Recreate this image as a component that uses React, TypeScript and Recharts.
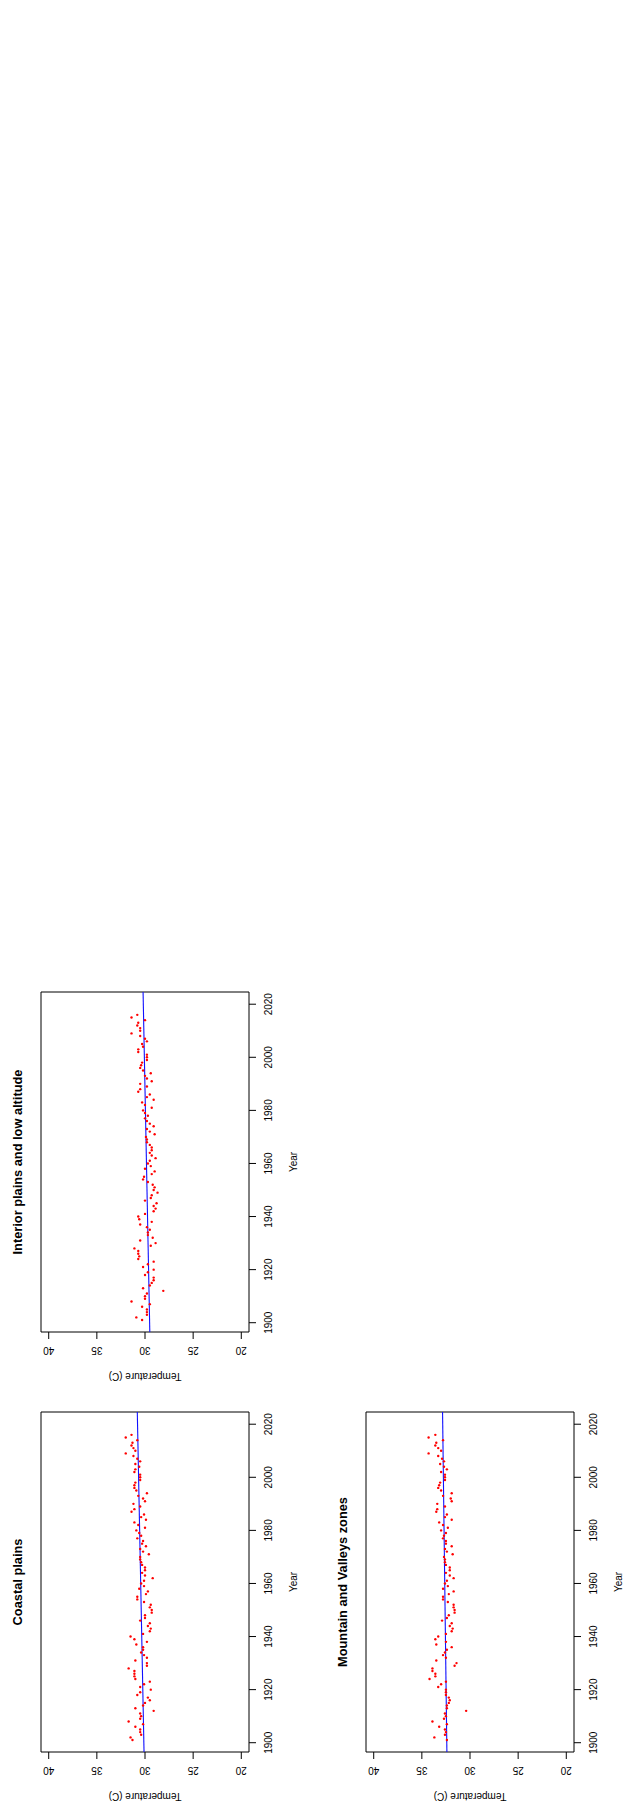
import React from 'react';
import { ScatterChart, Scatter, XAxis, YAxis, ReferenceArea, ReferenceLine } from 'recharts';

// Annual values, 1901-2016
const years = [
  1901, 1902, 1903, 1904, 1905, 1906, 1907, 1908, 1909, 1910,
  1911, 1912, 1913, 1914, 1915, 1916, 1917, 1918, 1919, 1920,
  1921, 1922, 1923, 1924, 1925, 1926, 1927, 1928, 1929, 1930,
  1931, 1932, 1933, 1934, 1935, 1936, 1937, 1938, 1939, 1940,
  1941, 1942, 1943, 1944, 1945, 1946, 1947, 1948, 1949, 1950,
  1951, 1952, 1953, 1954, 1955, 1956, 1957, 1958, 1959, 1960,
  1961, 1962, 1963, 1964, 1965, 1966, 1967, 1968, 1969, 1970,
  1971, 1972, 1973, 1974, 1975, 1976, 1977, 1978, 1979, 1980,
  1981, 1982, 1983, 1984, 1985, 1986, 1987, 1988, 1989, 1990,
  1991, 1992, 1993, 1994, 1995, 1996, 1997, 1998, 1999, 2000,
  2001, 2002, 2003, 2004, 2005, 2006, 2007, 2008, 2009, 2010,
  2011, 2012, 2013, 2014, 2015, 2016,
];

const coastalTemps = [
  31.3, 31.5, 30.4, 30.5, 30.5, 31.0, 30.2, 31.7, 30.5, 30.4,
  30.5, 29.1, 31.0, 30.2, 30.0, 29.5, 29.7, 30.8, 30.5, 29.4,
  30.5, 30.1, 29.5, 31.0, 31.1, 31.1, 31.1, 31.7, 29.8, 29.8,
  31.0, 29.8, 30.1, 30.4, 30.2, 30.2, 30.9, 29.8, 31.1, 31.5,
  30.2, 29.5, 29.4, 29.7, 29.5, 30.5, 30.0, 30.0, 29.3, 29.3,
  29.5, 29.4, 30.1, 30.8, 30.8, 29.9, 29.7, 30.6, 30.1, 30.4,
  30.1, 29.2, 30.0, 30.3, 30.0, 30.0, 30.3, 30.4, 30.5, 30.5,
  29.6, 30.2, 30.5, 29.9, 30.3, 30.2, 30.8, 30.4, 30.6, 30.9,
  30.0, 30.7, 31.1, 29.9, 30.4, 30.1, 31.4, 31.1, 30.5, 31.2,
  30.0, 30.2, 30.7, 29.8, 30.9, 31.1, 31.1, 31.0, 30.5, 30.5,
  30.5, 31.1, 31.0, 30.6, 31.0, 30.5, 30.8, 31.2, 32.0, 31.0,
  31.2, 31.4, 31.3, 30.8, 32.0, 31.4,
];

const interiorTemps = [
  30.3, 30.9, 29.8, 29.8, 29.8, 30.3, 29.5, 31.4, 30.0, 30.0,
  29.8, 28.1, 30.2, 29.5, 29.3, 29.1, 29.1, 30.0, 29.7, 29.1,
  30.2, 29.7, 29.1, 30.7, 30.6, 30.7, 30.7, 31.1, 29.4, 28.9,
  30.5, 29.2, 29.7, 29.7, 29.5, 29.8, 30.5, 29.3, 30.6, 30.7,
  30.0, 29.1, 28.9, 29.1, 28.8, 30.0, 29.4, 29.3, 28.7, 29.1,
  29.0, 29.2, 29.7, 30.2, 30.1, 29.3, 29.0, 30.0, 29.4, 29.7,
  29.5, 28.9, 29.3, 29.5, 29.3, 29.3, 29.5, 29.8, 29.8, 29.9,
  29.0, 29.5, 29.8, 29.1, 29.5, 29.8, 30.0, 29.7, 30.0, 30.2,
  29.3, 30.0, 30.3, 29.1, 29.8, 29.5, 30.7, 30.5, 29.8, 30.5,
  29.3, 29.8, 30.0, 29.4, 30.2, 30.5, 30.4, 30.3, 29.8, 29.8,
  29.8, 30.7, 30.7, 30.2, 30.3, 29.8, 30.0, 30.5, 31.4, 30.5,
  30.5, 30.8, 30.7, 30.0, 31.4, 30.8,
];

const mountainTemps = [
  32.4, 33.7, 32.6, 32.5, 32.6, 33.2, 32.4, 33.9, 32.7, 32.5,
  32.6, 30.4, 32.4, 32.4, 32.2, 32.1, 32.2, 32.5, 32.5, 32.5,
  33.3, 33.0, 32.5, 34.2, 33.6, 33.6, 33.9, 33.9, 31.6, 31.4,
  33.5, 32.5, 32.8, 32.6, 32.4, 31.9, 33.5, 32.5, 33.6, 33.3,
  32.5, 31.9, 31.8, 32.1, 31.9, 32.9, 32.4, 32.2, 31.6, 31.6,
  31.7, 31.7, 32.3, 32.8, 32.8, 32.2, 31.7, 32.8, 32.3, 32.6,
  32.4, 31.7, 32.1, 32.5, 32.1, 32.1, 32.5, 32.6, 32.6, 32.7,
  31.8, 32.4, 32.6, 31.9, 32.5, 32.5, 32.8, 32.7, 32.5, 33.0,
  32.3, 32.8, 33.2, 31.9, 32.6, 32.4, 33.5, 33.4, 32.6, 33.4,
  31.9, 32.0, 32.8, 31.9, 33.0, 33.3, 33.2, 33.1, 32.6, 32.6,
  32.6, 33.0, 32.4, 32.7, 33.1, 32.7, 32.9, 33.3, 34.3, 33.0,
  33.3, 33.6, 33.5, 32.8, 34.3, 33.6,
];

// fitted trend, read at the two ends of the plot range
const coastalTrend = [30.1, 30.8];
const interiorTrend = [29.5, 30.2];
const mountainTrend = [32.4, 32.85];

const yearTicks = [1900, 1920, 1940, 1960, 1980, 2000, 2020];
const tempTicks = [20, 25, 30, 35, 40];
const yearDomain = [1896.5, 2024.6];
const tempDomain = [19.2, 40.8];

const FONT = '"Liberation Sans", Arial, Helvetica, sans-serif';
const W = 420;
const H = 310;

const YearTick = (props: any) => {
  const { x, y, payload } = props;
  return (
    <text x={x} y={y + 12} dy="0.35em" textAnchor="middle" fontSize={10} fontFamily={FONT} fill="#000">
      {payload.value}
    </text>
  );
};

const TempTick = (props: any) => {
  const { x, y, payload } = props;
  const cx = x - 11.5;
  return (
    <text
      x={cx}
      y={y}
      dy="0.35em"
      textAnchor="middle"
      fontSize={10}
      fontFamily={FONT}
      fill="#000"
      transform={`rotate(-90, ${cx}, ${y})`}
    >
      {payload.value}
    </text>
  );
};

const Dot = (props: any) => {
  const { cx, cy } = props;
  if (cx == null || cy == null) return null;
  return <circle cx={cx} cy={cy} r={1.2} fill="#ff0000" />;
};

const makeTitles = (title: string) => (props: any) => {
  const vb = props.viewBox || { x: 57, y: 41, width: 340, height: 208 };
  const { x, y, width, height } = vb;
  const cx = x + width / 2;
  const cy = y + height / 2;
  const tx = x - 44;
  return (
    <g fontFamily={FONT} fill="#000">
      <text x={cx} y={y - 23.5} dy="0.35em" textAnchor="middle" fontSize={12.8} fontWeight="bold">
        {title}
      </text>
      <text x={cx} y={y + height + 44.5} dy="0.35em" textAnchor="middle" fontSize={10}>
        Year
      </text>
      <text x={tx} y={cy} dy="0.35em" textAnchor="middle" fontSize={10} transform={`rotate(-90, ${tx}, ${cy})`}>
        Temperature (C)
      </text>
    </g>
  );
};

interface PanelProps {
  title: string;
  temps: number[];
  trend: number[];
  left: number;
  top: number;
}

function Panel({ title, temps, trend, left, top }: PanelProps) {
  const data = years.map((year, i) => ({ year, temp: temps[i] }));

  return (
    <div
      style={{
        position: 'absolute',
        left,
        top,
        width: W,
        height: H,
        transform: 'rotate(-90deg)',
      }}
    >
      <ScatterChart width={W} height={H} margin={{ top: 41, right: 23, bottom: 0, left: 0 }}>
        <XAxis
          dataKey="year"
          type="number"
          domain={yearDomain}
          ticks={yearTicks}
          interval={0}
          allowDataOverflow
          height={61}
          tickSize={7}
          tickMargin={0}
          axisLine={false}
          stroke="#000"
          tickLine={{ stroke: '#000' }}
          tick={<YearTick />}
        />
        <YAxis
          dataKey="temp"
          type="number"
          domain={tempDomain}
          ticks={tempTicks}
          interval={0}
          allowDataOverflow
          width={57}
          tickSize={7}
          tickMargin={0}
          axisLine={false}
          stroke="#000"
          tickLine={{ stroke: '#000' }}
          tick={<TempTick />}
        />
        <ReferenceArea
          x1={yearDomain[0]}
          x2={yearDomain[1]}
          y1={tempDomain[0]}
          y2={tempDomain[1]}
          fill="none"
          fillOpacity={0}
          stroke="#000"
          strokeWidth={1}
          ifOverflow="visible"
          label={makeTitles(title)}
        />
        <Scatter data={data} dataKey="temp" shape={<Dot />} isAnimationActive={false} />
        <ReferenceLine
          segment={[
            { x: yearDomain[0], y: trend[0] },
            { x: yearDomain[1], y: trend[1] },
          ]}
          stroke="#1010ff"
          strokeWidth={1.1}
          ifOverflow="visible"
        />
      </ScatterChart>
    </div>
  );
}

export default function App() {
  return (
    <div
      style={{
        position: 'absolute',
        left: 0,
        top: 0,
        width: 629,
        height: 1809,
        overflow: 'hidden',
        background: '#fff',
      }}
    >
      <Panel title="Interior plains and low altitude" temps={interiorTemps} trend={interiorTrend} left={-55} top={1024} />
      <Panel title="Coastal plains" temps={coastalTemps} trend={coastalTrend} left={-55} top={1444} />
      <Panel title="Mountain and Valleys zones" temps={mountainTemps} trend={mountainTrend} left={269.5} top={1444} />
    </div>
  );
}
